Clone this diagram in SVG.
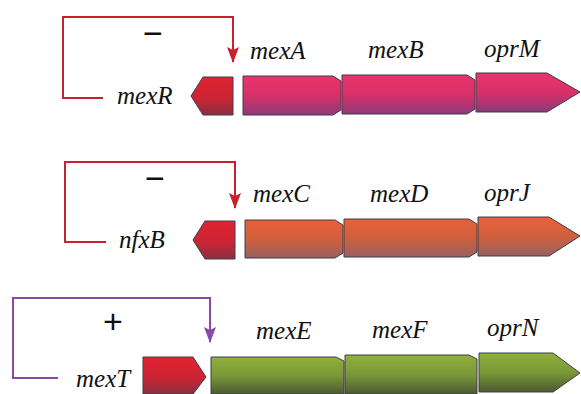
<svg xmlns="http://www.w3.org/2000/svg" width="581" height="394" viewBox="0 0 581 394">
<style>
text{font-family:"Liberation Serif","Times New Roman",serif;font-style:italic;font-size:25px;fill:#111}
.sign{font-style:normal;font-family:"Liberation Sans",sans-serif;font-size:34px;text-anchor:middle}
.gene{stroke:#3a3f4a;stroke-width:1}
.red{fill:none;stroke:#c9202f;stroke-width:2}
.pur{fill:none;stroke:#8a48a8;stroke-width:2}
</style>
<defs>
<linearGradient id="gPink" x1="0" y1="0" x2="0" y2="1"><stop offset="0" stop-color="#e8346a"/><stop offset="0.5" stop-color="#d8306a"/><stop offset="1" stop-color="#8c3a78"/></linearGradient>
<linearGradient id="gRed" x1="0" y1="0" x2="0" y2="1"><stop offset="0" stop-color="#e0242f"/><stop offset="0.55" stop-color="#cc2434"/><stop offset="1" stop-color="#8a3040"/></linearGradient>
<linearGradient id="gOrange" x1="0" y1="0" x2="0" y2="1"><stop offset="0" stop-color="#e8603a"/><stop offset="0.5" stop-color="#d0603e"/><stop offset="1" stop-color="#986060"/></linearGradient>
<linearGradient id="gGreen" x1="0" y1="0" x2="0" y2="1"><stop offset="0" stop-color="#90b03c"/><stop offset="0.5" stop-color="#7a9838"/><stop offset="1" stop-color="#4c5a30"/></linearGradient>
<marker id="aRed" viewBox="0 0 16 12" refX="15" refY="6" markerWidth="16" markerHeight="12" markerUnits="userSpaceOnUse" orient="auto"><path d="M0,0 L3,6 L0,12 L16,6 Z" fill="#c9202f"/></marker>
<marker id="aPur" viewBox="0 0 16 12" refX="15" refY="6" markerWidth="16" markerHeight="12" markerUnits="userSpaceOnUse" orient="auto"><path d="M0,0 L3,6 L0,12 L16,6 Z" fill="#8a48a8"/></marker>
</defs>

<g id="connectors">
<path class="red" d="M103,98 H63 V17 H233 V62" marker-end="url(#aRed)"/>
<path class="red" d="M106,242 H65 V162 H235 V208" marker-end="url(#aRed)"/>
<path class="pur" d="M58,378 H13 V298 H210 V342" marker-end="url(#aPur)"/>
</g>

<g id="op1">
<text class="sign" x="153" y="45">−</text>
<g id="mexR"><path class="gene" d="M233,77 V115 H203 L191,96 L203,77 Z" fill="url(#gRed)"/><text x="117" y="104">mexR</text></g>
<g id="mexA"><path class="gene" d="M243,76 H333 L341,81 V110 L333,115 H243 Z" fill="url(#gPink)"/><text x="250" y="59">mexA</text></g>
<g id="mexB"><path class="gene" d="M342,75 H467 L475,80 V109 L467,114 H342 Z" fill="url(#gPink)"/><text x="368" y="58">mexB</text></g>
<g id="oprM"><path class="gene" d="M476,73 H547 L580,92 L547,112 H476 Z" fill="url(#gPink)"/><text x="484" y="57">oprM</text></g>
</g>

<g id="op2">
<text class="sign" x="155" y="190">−</text>
<g id="nfxB"><path class="gene" d="M235,221 V259 H205 L193,240 L205,221 Z" fill="url(#gRed)"/><text x="119" y="248">nfxB</text></g>
<g id="mexC"><path class="gene" d="M245,220 H335 L343,225 V253 L335,258 H245 Z" fill="url(#gOrange)"/><text x="253" y="202">mexC</text></g>
<g id="mexD"><path class="gene" d="M344,219 H469 L477,224 V252 L469,257 H344 Z" fill="url(#gOrange)"/><text x="370" y="202">mexD</text></g>
<g id="oprJ"><path class="gene" d="M478,217 H549 L580,236 L549,256 H478 Z" fill="url(#gOrange)"/><text x="484" y="201">oprJ</text></g>
</g>

<g id="op3">
<text class="sign" x="113" y="333">+</text>
<g id="mexT"><path class="gene" d="M143,357 H193 L206,377 L193,394 H143 Z" fill="url(#gRed)"/><text x="76" y="387">mexT</text></g>
<g id="mexE"><path class="gene" d="M211,357 H336 L344,361 V394 H211 Z" fill="url(#gGreen)"/><text x="256" y="339">mexE</text></g>
<g id="mexF"><path class="gene" d="M345,355 H469 L477,359 V394 H345 Z" fill="url(#gGreen)"/><text x="372" y="338">mexF</text></g>
<g id="oprN"><path class="gene" d="M479,353 H553 L580,373 L553,392 H479 Z" fill="url(#gGreen)"/><text x="487" y="336">oprN</text></g>
</g>
</svg>
